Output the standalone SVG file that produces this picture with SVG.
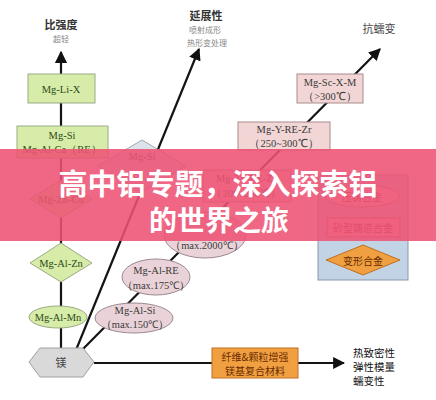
<svg xmlns="http://www.w3.org/2000/svg" width="436" height="400" viewBox="0 0 436 400">
<defs>
<marker id="ah" viewBox="0 0 10 10" refX="9" refY="5" markerWidth="5.5" markerHeight="5.5" orient="auto" markerUnits="strokeWidth">
<path d="M0,0 L10,5 L0,10 z" fill="#111"/>
</marker>
<style>
.ln{stroke:#141414;stroke-width:2.2;fill:none}
.t{font-family:"Liberation Serif",serif;font-size:10.5px;fill:#3a3a3a;text-anchor:middle;dominant-baseline:central}
.cj{font-family:"Noto Sans CJK SC",sans-serif;text-anchor:middle;dominant-baseline:central}
.grn{fill:#d6eca8;stroke:#9aab86;stroke-width:1}
.pnk{fill:#f2d6d6;stroke:#a88c8c;stroke-width:1}
.pel{fill:#ead3d8;stroke:#9c8890;stroke-width:1}
.org{fill:#f0a040;stroke:#c07020;stroke-width:1}
.gt{fill:#2f4a1a}
.ot{fill:#6a2a00;font-size:10px}
</style>
</defs>
<rect width="436" height="400" fill="#ffffff"/>

<g id="labels">
<text class="cj" x="61" y="24" font-size="11" font-weight="bold" fill="#333">比强度</text>
<text class="cj" x="61" y="38" font-size="8" fill="#888">超轻</text>
<text class="cj" x="206" y="15" font-size="11" font-weight="bold" fill="#333">延展性</text>
<text class="cj" x="205" y="29" font-size="8" fill="#888">喷射成形</text>
<text class="cj" x="207" y="42" font-size="8" fill="#888">热形变处理</text>
<text class="cj" x="379" y="28" font-size="11" fill="#444">抗蠕变</text>
<text class="cj" x="353" y="352" font-size="10.5" fill="#111" style="text-anchor:start">热致密性</text>
<text class="cj" x="353" y="366" font-size="10.5" fill="#111" style="text-anchor:start">弹性模量</text>
<text class="cj" x="353" y="380" font-size="10.5" fill="#111" style="text-anchor:start">蠕变性</text>
</g>

<g id="connectors">
<line class="ln" x1="61" y1="349" x2="61" y2="52" stroke-width="2.6" marker-end="url(#ah)"/>
<line class="ln" x1="76" y1="350" x2="199" y2="49" marker-end="url(#ah)"/>
<line class="ln" x1="82" y1="350" x2="380" y2="49" marker-end="url(#ah)"/>
<line class="ln" x1="94" y1="363" x2="212" y2="363"/>
<line class="ln" x1="298" y1="363" x2="344" y2="363" marker-end="url(#ah)"/>
</g>

<g id="n-mglix"><rect class="grn" x="28" y="74" width="67" height="29"/><text class="t gt" x="61" y="89">Mg-Li-X</text></g>
<g id="n-mgsi-box"><rect class="grn" x="17" y="126" width="91" height="32"/><text class="t gt" x="62" y="135">Mg-Si</text><text class="t gt" x="62" y="149">Mg-Al-Ca（RE）</text></g>
<g id="n-mgzncu"><polygon class="grn" points="30,199 61,180 92,199 61,218"/><text class="t gt" x="61" y="199">Mg-Zn-Cu</text></g>
<g id="n-mgalzn"><polygon class="grn" points="30,263 61,243 92,263 61,282"/><text class="t gt" x="61" y="263">Mg-Al-Zn</text></g>
<g id="n-mgalmn"><ellipse class="grn" cx="58" cy="317" rx="29" ry="11"/><text class="t gt" x="58" y="317">Mg-Al-Mn</text></g>
<g id="n-mg"><polygon points="29,362 40,348 83,348 94,362 83,377 40,377" fill="#d9d9d9" stroke="#a0a0a0"/><text class="cj" x="61" y="362" font-size="11" fill="#444">镁</text></g>

<g id="n-mgsi-diamond"><polygon points="98,166 142,140 186,166 142,192" fill="#dde3ea" stroke="#a0a8b0"/><text class="t" x="142" y="156" fill="#6b4a4a">Mg-Si</text></g>
<g id="n-mgalre"><ellipse class="pel" cx="156" cy="277" rx="34" ry="18"/><text class="t" x="156" y="270">Mg-Al-RE</text><text class="t" x="156" y="285">（max.175℃）</text></g>
<g id="n-mgalsi"><ellipse class="pel" cx="134" cy="318" rx="39" ry="15"/><text class="t" x="135" y="310">Mg-Al-Si</text><text class="t" x="135" y="324">（max.150℃）</text></g>
<g id="n-mgrezn"><ellipse class="pel" cx="205" cy="235" rx="41" ry="23"/><text class="t" x="207" y="245">（max.2000℃）</text></g>
<g id="n-mgznzr"><rect class="pnk" x="203" y="170" width="88" height="32"/><text class="t" x="246" y="178">Mg-Zn-RE-Zr</text><text class="t" x="246" y="193">（200~250℃）</text></g>
<g id="n-mgyrezr"><rect class="pnk" x="238" y="122" width="92" height="28"/><text class="t" x="284" y="129">Mg-Y-RE-Zr</text><text class="t" x="284" y="143">（250~300℃）</text></g>
<g id="n-mgscxm"><rect class="pnk" x="297" y="74" width="66" height="29"/><text class="t" x="330" y="82">Mg-Sc-X-M</text><text class="t" x="330" y="96">（&gt;300℃）</text></g>

<g id="n-alloys">
<rect x="318" y="175" width="90" height="105" fill="#c3d3e6" stroke="#8a98a8"/>
<ellipse cx="362" cy="196" rx="37" ry="11" fill="#f2dede" stroke="#a88c8c"/>
<text class="cj" x="362" y="196" font-size="10" fill="#7a3030">压铸合金</text>
<rect x="327" y="218" width="73" height="19" fill="#f0c8c8" stroke="#b07070"/>
<text class="cj" x="363" y="227.5" font-size="10" fill="#8a3030">砂型铸造合金</text>
<polygon class="org" points="326,260 363,245 400,260 363,275"/>
<text class="cj" x="363" y="260" font-size="10" fill="#6a2a00">变形合金</text>
</g>

<g id="n-composite"><rect class="org" x="212" y="348" width="86" height="30"/><text class="cj ot" x="255" y="356">纤维&amp;颗粒增强</text><text class="cj ot" x="255" y="370">镁基复合材料</text></g>

<g id="banner">
<rect x="0" y="149" width="436" height="92" fill="rgb(238,82,116)" opacity="0.88"/>
<text class="cj" x="218" y="182" font-size="29" font-weight="bold" fill="#ffffff">高中铝专题，深入探索铝</text>
<text class="cj" x="219" y="219" font-size="28" font-weight="bold" fill="#ffffff">的世界之旅</text>
</g>
</svg>
